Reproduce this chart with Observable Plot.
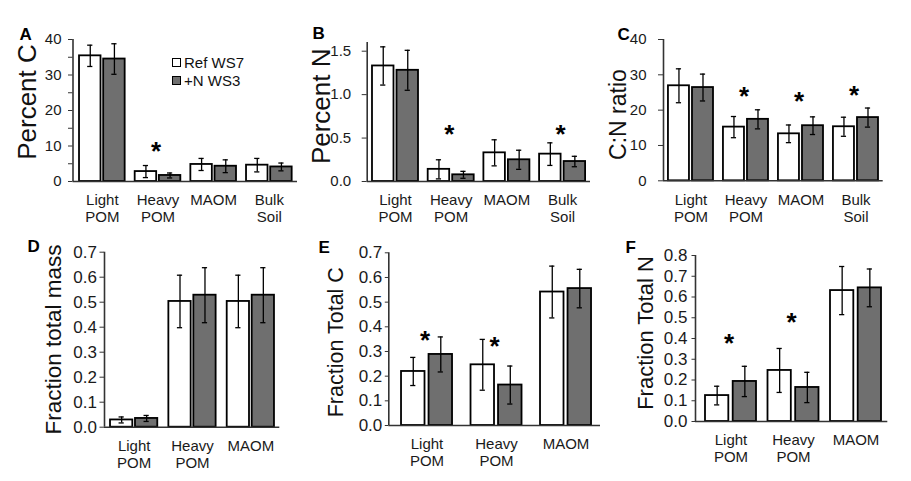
<!DOCTYPE html>
<html><head><meta charset="utf-8">
<script src="https://cdn.jsdelivr.net/npm/d3@7"></script>
<script src="https://cdn.jsdelivr.net/npm/@observablehq/plot@0.6"></script>
<style>
html,body{margin:0;padding:0;background:#fff;}
#chart{position:relative;width:911px;height:481px;overflow:hidden;font-family:"Liberation Sans",Arial,sans-serif;}
#chart svg{position:absolute;left:0;top:0;}
.lg{position:absolute;font-size:15px;color:#111;line-height:1;white-space:nowrap;}
.sw{position:absolute;width:7px;height:7px;border:1.5px solid #000;}
</style></head><body><div id="chart"></div>
<script>
// ---------- data ----------
const cat4 = ["Light\nPOM", "Heavy\nPOM", "MAOM", "Bulk\nSoil"];
const cat3 = ["Light\nPOM", "Heavy\nPOM", "MAOM"];
const seriesNames = ["Ref WS7", "+N WS3"];

const percentC_ref = [35.4, 2.8, 4.8, 4.6];
const percentC_refErr = [3.0, 1.7, 1.7, 1.9];
const percentC_n = [34.5, 1.7, 4.3, 4.1];
const percentC_nErr = [4.3, 0.7, 1.8, 1.1];
const percentC_stars = [null, 10.1, null, null];

const percentN_ref = [1.33, 0.14, 0.33, 0.315];
const percentN_refErr = [0.22, 0.11, 0.15, 0.13];
const percentN_n = [1.28, 0.077, 0.25, 0.23];
const percentN_nErr = [0.23, 0.04, 0.11, 0.06];
const percentN_stars = [null, 0.607, null, 0.607];

const cn_ref = [26.9, 15.2, 13.3, 15.3];
const cn_refErr = [4.8, 3.0, 2.5, 2.7];
const cn_n = [26.4, 17.4, 15.6, 17.9];
const cn_nErr = [3.8, 2.7, 2.5, 2.7];
const cn_stars = [null, 25.6, 24.2, 25.7];

const mass_ref = [0.029, 0.503, 0.503];
const mass_refErr = [0.012, 0.105, 0.105];
const mass_n = [0.035, 0.528, 0.528];
const mass_nErr = [0.012, 0.11, 0.11];
const mass_stars = [null, null, null];

const fracC_ref = [0.219, 0.246, 0.541];
const fracC_refErr = [0.057, 0.103, 0.105];
const fracC_n = [0.288, 0.164, 0.555];
const fracC_nErr = [0.071, 0.077, 0.078];
const fracC_stars = [0.368, 0.345, null];

const fracN_ref = [0.125, 0.246, 0.631];
const fracN_refErr = [0.045, 0.106, 0.116];
const fracN_n = [0.193, 0.164, 0.644];
const fracN_nErr = [0.073, 0.073, 0.091];
const fracN_stars = [0.406, 0.506, null];

const ticks40 = [0, 10, 20, 30, 40];
const minor40 = [5, 15, 25, 35];
const ticksN = [0, 0.5, 1.0, 1.5];
const ticks07 = [0, 0.1, 0.2, 0.3, 0.4, 0.5, 0.6, 0.7];
const ticks08 = [0, 0.1, 0.2, 0.3, 0.4, 0.5, 0.6, 0.7, 0.8];

const f0 = d => String(d);
const f1 = d => d.toFixed(1);

const panels = [
  {letter: "A", title: "Percent C", cats: cat4, ref: percentC_ref, refErr: percentC_refErr, nit: percentC_n, nitErr: percentC_nErr, stars: percentC_stars, yMax: 40, ticks: ticks40, minor: minor40, fmt: f0},
  {letter: "B", title: "Percent N", cats: cat4, ref: percentN_ref, refErr: percentN_refErr, nit: percentN_n, nitErr: percentN_nErr, stars: percentN_stars, yMax: 1.6, ticks: ticksN, minor: [], fmt: f1},
  {letter: "C", title: "C:N ratio", cats: cat4, ref: cn_ref, refErr: cn_refErr, nit: cn_n, nitErr: cn_nErr, stars: cn_stars, yMax: 40, ticks: ticks40, minor: [], fmt: f0},
  {letter: "D", title: "Fraction total mass", cats: cat3, ref: mass_ref, refErr: mass_refErr, nit: mass_n, nitErr: mass_nErr, stars: mass_stars, yMax: 0.7, ticks: ticks07, minor: [], fmt: f1},
  {letter: "E", title: "Fraction Total C", cats: cat3, ref: fracC_ref, refErr: fracC_refErr, nit: fracC_n, nitErr: fracC_nErr, stars: fracC_stars, yMax: 0.7, ticks: ticks07, minor: [], fmt: f1},
  {letter: "F", title: "Fraction Total N", cats: cat3, ref: fracN_ref, refErr: fracN_refErr, nit: fracN_n, nitErr: fracN_nErr, stars: fracN_stars, yMax: 0.8, ticks: ticks08, minor: [], fmt: f1}
];

// ---------- layout (pixel geometry) ----------
const layouts = [
  {X0: 72.5, X1: 297, zeroY: 181, topY: 39, unit: 55.67, start: 0.117, w: 0.386, gap: 0.048, tickSize: 4.5, tickPad: 7, tickFont: 15, titleFont: 26, titleX: 27.5, titleY: 101.5, letterX: 19, letterY: 27},
  {X0: 366.7, X1: 590, zeroY: 181, topY: 42, unit: 55.7, start: 0.095, w: 0.386, gap: 0.054, tickSize: 5, tickPad: 11, tickFont: 15, titleFont: 26, titleX: 321, titleY: 105.8, letterX: 312, letterY: 26},
  {X0: 663, X1: 882.7, zeroY: 180.3, topY: 39, unit: 55, start: 0.09, w: 0.382, gap: 0.055, tickSize: 5, tickPad: 12, tickFont: 15, titleFont: 23, titleX: 618.3, titleY: 114, letterX: 617, letterY: 27},
  {X0: 104, X1: 279.3, zeroY: 426.7, topY: 251.7, unit: 58.35, start: 0.103, w: 0.382, gap: 0.046, tickSize: 4.5, tickPad: 3, tickFont: 17, titleFont: 22.5, titleX: 53.3, titleY: 339, letterX: 27, letterY: 239},
  {X0: 388.3, X1: 600, zeroY: 425, topY: 252.3, unit: 69.5, start: 0.183, w: 0.338, gap: 0.058, tickSize: 3.5, tickPad: 3, tickFont: 17, titleFont: 21.5, titleX: 335.8, titleY: 341.7, letterX: 318, letterY: 240},
  {X0: 695, X1: 887.3, zeroY: 421, topY: 255, unit: 62.5, start: 0.16, w: 0.373, gap: 0.07, tickSize: 3.5, tickPad: 4.5, tickFont: 17, titleFont: 22, titleX: 645, titleY: 332.5, letterX: 625, letterY: 240}
];

const W = 911, H = 481;
const FONT = "'Liberation Sans', Arial, sans-serif";
const GRAY = "#6f6f6f";
const AXIS = "#333";

function drawPanel(p, L) {
  const xmax = (L.X1 - L.X0) / L.unit;
  const cap = 2.6 / L.unit;
  const rows = [];
  p.cats.forEach((c, i) => {
    [0, 1].forEach(s => {
      const x1 = i + L.start + s * (L.w + L.gap);
      rows.push({i, s, x1, x2: x1 + L.w, xc: x1 + L.w / 2,
        v: s ? p.nit[i] : p.ref[i], e: s ? p.nitErr[i] : p.refErr[i]});
    });
  });
  const center = i => i + L.start + L.w + L.gap / 2;
  const starRows = p.stars.map((v, i) => ({i, v})).filter(d => d.v != null);
  const midY = (L.topY + L.zeroY) / 2;

  return Plot.plot({
    width: W, height: H,
    marginLeft: L.X0, marginRight: W - L.X1, marginTop: L.topY, marginBottom: H - L.zeroY,
    style: {background: "transparent", fontFamily: FONT, overflow: "visible"},
    x: {domain: [0, xmax], axis: null},
    y: {domain: [0, p.yMax]},
    marks: [
      Plot.rectY(rows.filter(d => d.s === 0), {x1: "x1", x2: "x2", y: "v", fill: "#ffffff", stroke: "#000", strokeWidth: 1.8}),
      Plot.rectY(rows.filter(d => d.s === 1), {x1: "x1", x2: "x2", y: "v", fill: GRAY, stroke: "#000", strokeWidth: 1.8}),
      Plot.ruleX(rows, {x: "xc", y1: d => d.v - d.e, y2: d => d.v + d.e, stroke: "#000", strokeWidth: 1.3}),
      Plot.ruleY(rows, {y: d => d.v + d.e, x1: d => d.xc - cap, x2: d => d.xc + cap, stroke: "#000", strokeWidth: 1.3}),
      Plot.ruleY(rows, {y: d => d.v - d.e, x1: d => d.xc - cap, x2: d => d.xc + cap, stroke: "#000", strokeWidth: 1.3}),
      Plot.ruleY([0], {stroke: AXIS, strokeWidth: 1.6}),
      Plot.ruleX([0], {stroke: AXIS, strokeWidth: 1.6}),
      Plot.axisY(p.ticks, {tickSize: L.tickSize, tickPadding: L.tickPad, tickFormat: p.fmt, fontSize: L.tickFont, stroke: AXIS, fill: "#1a1a1a", label: null}),
      ...(p.minor.length ? [Plot.axisY(p.minor, {tickSize: L.tickSize, tickFormat: () => "", stroke: AXIS, label: null})] : []),
      Plot.text(p.cats, {x: (d, i) => center(i), text: d => d, frameAnchor: "bottom", lineAnchor: "top", dy: 12, fontSize: 15, lineHeight: 1.12, fill: "#1a1a1a"}),
      Plot.text(starRows, {x: d => center(d.i), y: "v", text: () => "*", fontSize: 26, fontWeight: "bold", dx: -2, dy: 6, fill: "#000"}),
      Plot.text([p.title], {frameAnchor: "left", rotate: -90, textAnchor: "middle", lineAnchor: "middle", fontSize: L.titleFont, dx: L.titleX - L.X0, dy: L.titleY - midY, fill: "#111"}),
      Plot.text([p.letter], {frameAnchor: "top-left", textAnchor: "start", lineAnchor: "top", fontSize: 17, fontWeight: "bold", dx: L.letterX - L.X0, dy: L.letterY - L.topY, fill: "#000"})
    ]
  });
}

const root = document.getElementById("chart");
panels.forEach((p, k) => root.appendChild(drawPanel(p, layouts[k])));

// legend (panel A)
const legendFills = ["#ffffff", GRAY];
seriesNames.forEach((name, k) => {
  const sw = document.createElement("div");
  sw.className = "sw";
  sw.style.left = "172px";
  sw.style.top = (58 + k * 18) + "px";
  sw.style.background = legendFills[k];
  root.appendChild(sw);
  const t = document.createElement("div");
  t.className = "lg";
  t.style.left = "184px";
  t.style.top = (55 + k * 18) + "px";
  t.textContent = name;
  root.appendChild(t);
});
</script></body></html>
